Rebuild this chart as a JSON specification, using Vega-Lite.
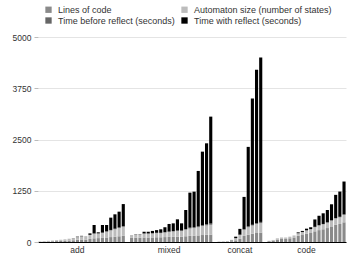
{
 "$schema": "https://vega.github.io/schema/vega-lite/v6.json",
 "width": 308, "height": 205,
 "autosize": "none",
 "padding": {"left": 38, "top": 37, "right": 2, "bottom": 19},
 "background": "white",
 "config": {"font": "Liberation Sans", "view": {"stroke": null}},
 "data": {"values": [
  {"id":"a00","a":6,"b":6,"c":0,"d":0},
  {"id":"a01","a":10,"b":10,"c":0,"d":0},
  {"id":"a02","a":14,"b":14,"c":0,"d":0},
  {"id":"a03","a":17,"b":18,"c":0,"d":0},
  {"id":"a04","a":22,"b":23,"c":0,"d":0},
  {"id":"a05","a":27,"b":28,"c":0,"d":0},
  {"id":"a06","a":30,"b":35,"c":0,"d":0},
  {"id":"a07","a":36,"b":44,"c":0,"d":0},
  {"id":"a08","a":42,"b":50,"c":0,"d":3},
  {"id":"a09","a":55,"b":65,"c":0,"d":10},
  {"id":"a10","a":60,"b":80,"c":0,"d":10},
  {"id":"a11","a":55,"b":70,"c":0,"d":5},
  {"id":"a12","a":75,"b":95,"c":5,"d":35},
  {"id":"a13","a":90,"b":110,"c":10,"d":205},
  {"id":"a14","a":95,"b":110,"c":6,"d":25},
  {"id":"a15","a":100,"b":120,"c":10,"d":185},
  {"id":"a16","a":110,"b":140,"c":10,"d":155},
  {"id":"a17","a":120,"b":160,"c":14,"d":300},
  {"id":"a18","a":130,"b":180,"c":15,"d":350},
  {"id":"a19","a":140,"b":200,"c":15,"d":385},
  {"id":"a20","a":150,"b":220,"c":15,"d":540},
  {"id":"m00","a":100,"b":70,"c":0,"d":0},
  {"id":"m01","a":105,"b":85,"c":0,"d":5},
  {"id":"m02","a":105,"b":85,"c":0,"d":5},
  {"id":"m03","a":110,"b":90,"c":10,"d":40},
  {"id":"m04","a":110,"b":90,"c":10,"d":40},
  {"id":"m05","a":110,"b":95,"c":10,"d":55},
  {"id":"m06","a":115,"b":100,"c":10,"d":65},
  {"id":"m07","a":115,"b":100,"c":10,"d":85},
  {"id":"m08","a":120,"b":110,"c":10,"d":120},
  {"id":"m09","a":125,"b":120,"c":10,"d":185},
  {"id":"m10","a":125,"b":130,"c":10,"d":190},
  {"id":"m11","a":130,"b":140,"c":10,"d":273},
  {"id":"m12","a":130,"b":140,"c":10,"d":175},
  {"id":"m13","a":140,"b":160,"c":15,"d":465},
  {"id":"m14","a":150,"b":180,"c":20,"d":854},
  {"id":"m15","a":150,"b":190,"c":20,"d":868},
  {"id":"m16","a":160,"b":200,"c":20,"d":1353},
  {"id":"m17","a":170,"b":220,"c":25,"d":1789},
  {"id":"m18","a":175,"b":230,"c":25,"d":1977},
  {"id":"m19","a":180,"b":240,"c":30,"d":2608},
  {"id":"c00","a":5,"b":5,"c":0,"d":0},
  {"id":"c01","a":8,"b":7,"c":0,"d":0},
  {"id":"c02","a":12,"b":13,"c":0,"d":0},
  {"id":"c03","a":20,"b":25,"c":0,"d":5},
  {"id":"c04","a":40,"b":50,"c":5,"d":35},
  {"id":"c05","a":80,"b":90,"c":10,"d":140},
  {"id":"c06","a":150,"b":150,"c":10,"d":790},
  {"id":"c07","a":180,"b":180,"c":20,"d":1940},
  {"id":"c08","a":200,"b":200,"c":20,"d":3080},
  {"id":"c09","a":220,"b":220,"c":25,"d":3735},
  {"id":"c10","a":230,"b":230,"c":30,"d":4010},
  {"id":"k00","a":20,"b":10,"c":0,"d":0},
  {"id":"k01","a":35,"b":15,"c":0,"d":0},
  {"id":"k02","a":60,"b":30,"c":0,"d":0},
  {"id":"k03","a":75,"b":35,"c":0,"d":0},
  {"id":"k04","a":75,"b":35,"c":0,"d":0},
  {"id":"k05","a":90,"b":40,"c":0,"d":0},
  {"id":"k06","a":110,"b":50,"c":0,"d":0},
  {"id":"k07","a":150,"b":60,"c":5,"d":20},
  {"id":"k08","a":170,"b":70,"c":5,"d":25},
  {"id":"k09","a":200,"b":80,"c":5,"d":40},
  {"id":"k10","a":220,"b":90,"c":5,"d":45},
  {"id":"k11","a":260,"b":100,"c":10,"d":180},
  {"id":"k12","a":290,"b":110,"c":10,"d":230},
  {"id":"k13","a":310,"b":120,"c":10,"d":260},
  {"id":"k14","a":340,"b":130,"c":10,"d":300},
  {"id":"k15","a":380,"b":140,"c":10,"d":390},
  {"id":"k16","a":420,"b":150,"c":15,"d":565},
  {"id":"k17","a":440,"b":160,"c":15,"d":615},
  {"id":"k18","a":480,"b":180,"c":15,"d":800}
 ]},
 "transform": [{"fold": ["a","b","c","d"], "as": ["s","v"]}],
 "mark": {"type": "bar"},
 "encoding": {
  "x": {"field": "id", "type": "ordinal",
   "scale": {"domain": ["a00","a01","a02","a03","a04","a05","a06","a07","a08","a09","a10","a11","a12","a13","a14","a15","a16","a17","a18","a19","a20","g1","m00","m01","m02","m03","m04","m05","m06","m07","m08","m09","m10","m11","m12","m13","m14","m15","m16","m17","m18","m19","g2","c00","c01","c02","c03","c04","c05","c06","c07","c08","c09","c10","g3","k00","k01","k02","k03","k04","k05","k06","k07","k08","k09","k10","k11","k12","k13","k14","k15","k16","k17","k18"], "paddingInner": 0.25, "paddingOuter": 0.1},
   "axis": {"title": null, "ticks": false, "grid": false, "domainColor": "#000", "labelAngle": 0, "labelFontSize": 8.5, "labelColor": "#333", "labelPadding": 3, "labelOverlap": false,
    "labelExpr": "datum.value == 'a09' ? 'add' : datum.value == 'm09' ? 'mixed' : datum.value == 'c05' ? 'concat' : datum.value == 'k09' ? 'code' : ''"}},
  "y": {"field": "v", "type": "quantitative", "stack": "zero",
   "scale": {"domain": [0, 5000]},
   "axis": {"title": null, "values": [0,1250,2500,3750,5000], "format": "d", "domain": false, "tickColor": "#bbb", "tickSize": 4, "labelFontSize": 8.5, "labelColor": "#333", "labelPadding": 3, "gridColor": "#ddd", "gridWidth": 0.8}},
  "order": {"field": "s", "sort": "ascending"},
  "color": {"field": "s", "type": "nominal",
   "scale": {"domain": ["a","b","c","d"], "range": ["#8a8a8a","#bcbcbc","#666666","#000000"]},
   "legend": {"orient": "none", "legendX": 6, "legendY": -32, "columns": 2, "direction": "horizontal", "title": null, "symbolType": "square", "symbolSize": 40, "symbolStrokeWidth": 0, "labelFontSize": 9, "labelColor": "#333", "labelOffset": 5, "columnPadding": 5, "rowPadding": 1,
    "labelExpr": "datum.label == 'a' ? 'Lines of code' : datum.label == 'b' ? 'Automaton size (number of states)' : datum.label == 'c' ? 'Time before reflect (seconds)' : 'Time with reflect (seconds)'"}}
 }
}
